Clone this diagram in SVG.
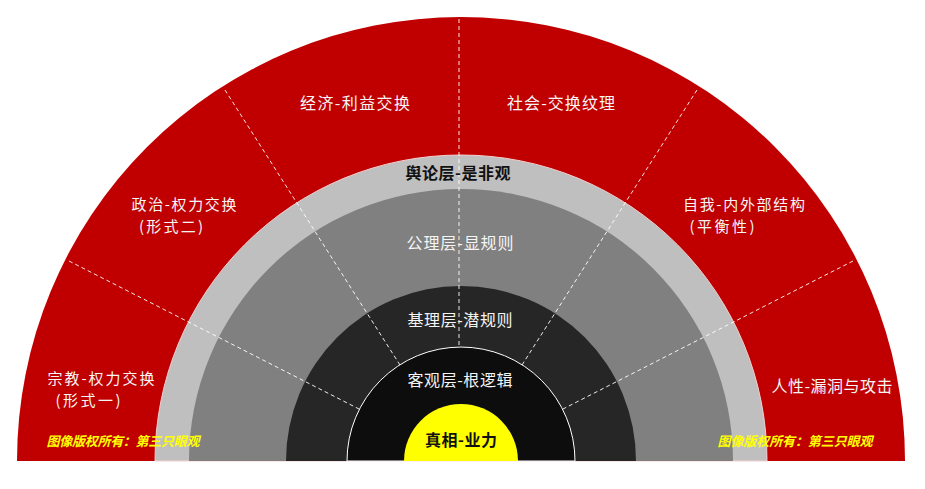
<svg xmlns="http://www.w3.org/2000/svg" width="925" height="489" viewBox="0 0 925 489">
<style>
.t{font-family:"Noto Sans CJK SC","Liberation Sans",sans-serif;font-size:16px;text-anchor:middle;}
.s{font-size:15px;}
.w{fill:#F5F5F5;}
.k{fill:#111111;font-weight:bold;}
.c{font-family:"Noto Sans CJK SC","Liberation Sans",sans-serif;font-size:13px;font-style:italic;font-weight:bold;fill:#FFFF00;text-anchor:middle;}
.d{stroke:#FFFFFF;stroke-width:1;stroke-dasharray:4 3;fill:none;opacity:0.9;}
</style>
<rect width="925" height="489" fill="#FFFFFF"/>
<g id="ring-red">
<path d="M17,461 A444,444 0 0 1 905,461 Z" fill="#C00000"/>
</g>
<g id="ring-yulun">
<path d="M155,461 A306,306 0 0 1 767,461 Z" fill="#BFBFBF" stroke="#F2D0D0" stroke-width="1"/>
</g>
<g id="ring-gongli">
<path d="M189,461 A272,272 0 0 1 733,461 Z" fill="#808080"/>
</g>
<g id="ring-jili">
<path d="M286,461 A175,175 0 0 1 636,461 Z" fill="#262626"/>
</g>
<g id="ring-keguan">
<path d="M347,461 A114,114 0 0 1 575,461 Z" fill="#0D0D0D" stroke="#FFFFFF" stroke-width="1"/>
</g>
<g id="core">
<path d="M404,461 A57,57 0 0 1 518,461 Z" fill="#FFFF00"/>
</g>
<g id="connectors">
<line class="d" x1="69" y1="261" x2="359" y2="409"/>
<line class="d" x1="225" y1="90" x2="400" y2="365"/>
<line class="d" x1="459" y1="19" x2="459" y2="347"/>
<line class="d" x1="697" y1="90" x2="522" y2="365"/>
<line class="d" x1="853" y1="261" x2="563" y2="409"/>
</g>
<g id="labels-outer">
<g id="sector-zongjiao">
<text class="t s w" x="101" y="384" textLength="107" lengthAdjust="spacing">宗教-权力交换</text>
<text class="t s w" x="88" y="406" textLength="65" lengthAdjust="spacing">(形式一)</text>
</g>
<g id="sector-zhengzhi">
<text class="t s w" x="184" y="210" textLength="105" lengthAdjust="spacing">政治-权力交换</text>
<text class="t s w" x="171" y="232" textLength="64" lengthAdjust="spacing">(形式二)</text>
</g>
<g id="sector-jingji">
<text class="t w" x="355" y="109" textLength="110" lengthAdjust="spacing">经济-利益交换</text>
</g>
<g id="sector-shehui">
<text class="t w" x="561" y="109" textLength="108" lengthAdjust="spacing">社会-交换纹理</text>
</g>
<g id="sector-ziwo">
<text class="t s w" x="744" y="210" textLength="122" lengthAdjust="spacing">自我-内外部结构</text>
<text class="t s w" x="722" y="232" textLength="65" lengthAdjust="spacing">(平衡性)</text>
</g>
<g id="sector-renxing">
<text class="t w" x="832" y="392" textLength="121" lengthAdjust="spacing">人性-漏洞与攻击</text>
</g>
</g>
<g id="labels-inner">
<text class="t k" x="458" y="179" textLength="105" lengthAdjust="spacing">舆论层-是非观</text>
<text class="t w" x="460" y="249" textLength="107" lengthAdjust="spacing">公理层-显规则</text>
<text class="t w" x="460" y="326" textLength="105" lengthAdjust="spacing">基理层-潜规则</text>
<text class="t w" x="460" y="386" textLength="105" lengthAdjust="spacing">客观层-根逻辑</text>
<text class="t k" x="461" y="446" textLength="72" lengthAdjust="spacing">真相-业力</text>
</g>
<g id="copyright">
<text class="c" x="123" y="446" textLength="153" lengthAdjust="spacing">图像版权所有：第三只眼观</text>
<text class="c" x="795" y="446" textLength="155" lengthAdjust="spacing">图像版权所有：第三只眼观</text>
</g>
</svg>
